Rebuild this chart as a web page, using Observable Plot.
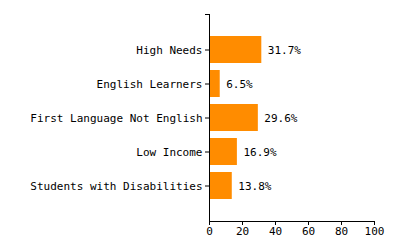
<!DOCTYPE html>
<html>
<head>
<meta charset="utf-8">
<script src="https://cdn.jsdelivr.net/npm/d3@7"></script>
<script src="https://cdn.jsdelivr.net/npm/@observablehq/plot@0.6"></script>
<style>
  html, body { margin: 0; padding: 0; background: #fff; }
  #chart svg { display: block; }
</style>
</head>
<body>
<div id="chart"></div>
<script>
const categories = ["High Needs", "English Learners", "First Language Not English", "Low Income", "Students with Disabilities"];
const values = [31.7, 6.5, 29.6, 16.9, 13.8];
const xTicks = [0, 20, 40, 60, 80, 100];

const data = categories.map((c, i) => ({category: c, value: values[i]}));

const outerTicks = (index, scales, vals, dims) => {
  const x0 = dims.marginLeft;
  const y0 = dims.marginTop;
  const g = d3.create("svg:g");
  g.append("path")
    .attr("d", `M${x0 - 4},${y0 + 0.5}H${x0}`)
    .attr("stroke", "black").attr("fill", "none");
  return g.node();
};

const chart = Plot.plot({
  width: 400,
  height: 250,
  marginLeft: 209,
  marginRight: 26,
  marginTop: 14,
  marginBottom: 29,
  style: {fontFamily: "'DejaVu Sans Mono', monospace", fontSize: "11px", color: "black", background: "white"},
  x: {domain: [0, 100], ticks: xTicks, label: null},
  y: {domain: categories, paddingInner: 0.2, paddingOuter: 0.6, label: null},
  marks: [
    Plot.barX(data, {x: "value", y: "category", fill: "#FF8C00"}),
    Plot.text(data, {x: "value", y: "category", text: d => d.value.toFixed(1) + "%", textAnchor: "start", dx: 6, fill: "black"}),
    Plot.axisX({ticks: xTicks, tickSize: 4, tickPadding: 2, stroke: "black", strokeOpacity: 1, fill: "black"}),
    Plot.axisY({tickSize: 4, tickPadding: 3, stroke: "black", strokeOpacity: 1, fill: "black"}),
    Plot.frame({anchor: "left", stroke: "black"}),
    Plot.frame({anchor: "bottom", stroke: "black"}),
    outerTicks
  ]
});
document.getElementById("chart").appendChild(chart);
</script>
</body>
</html>
